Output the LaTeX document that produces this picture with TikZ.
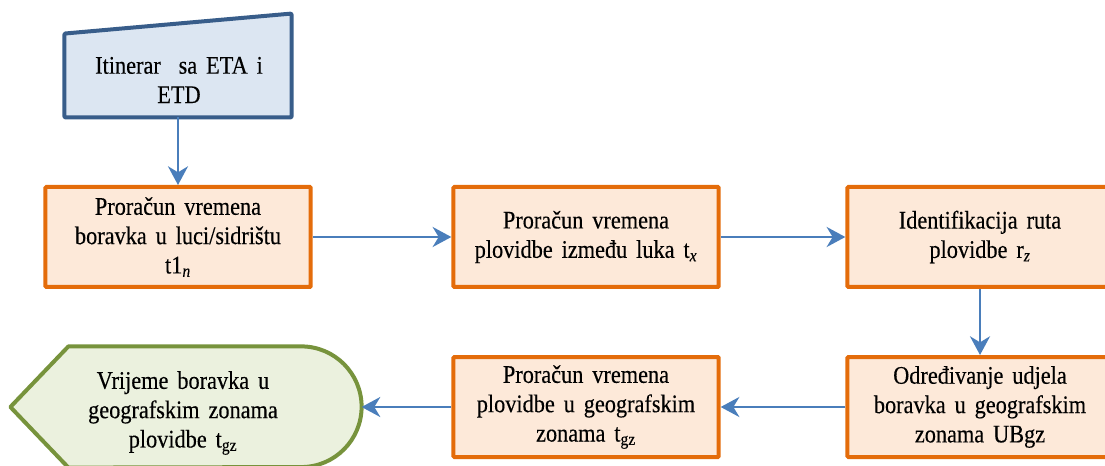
\documentclass[tikz,border=0pt]{standalone}
\usepackage{fontspec}
\setmainfont[WordSpace=1.6, FakeStretch=0.88, FakeBold=0.3]{Liberation Serif}
\usetikzlibrary{arrows.meta}

\definecolor{boxedge}{RGB}{228,108,10}
\definecolor{boxfill}{RGB}{253,233,217}
\definecolor{inedge}{RGB}{56,93,138}
\definecolor{infill}{RGB}{220,230,242}
\definecolor{outedge}{RGB}{119,147,60}
\definecolor{outfill}{RGB}{235,241,222}
\definecolor{flow}{RGB}{74,126,187}

\newcommand{\idx}[1]{\textsubscript{#1}}

\begin{document}
\begin{tikzpicture}[x=0.75pt,y=-0.75pt,
  txt/.style={font=\fontsize{19pt}{22pt}\selectfont, align=center, text=black},
  procbox/.style={txt, rectangle, draw=boxedge, fill=boxfill, line width=3pt,
    minimum width=199pt, minimum height=75pt, inner sep=0pt, rounded corners=0.75pt},
  holder/.style={rectangle, draw=none, inner sep=0pt},
  flowarrow/.style={draw=flow, line width=2pt, -{Stealth[length=14pt,width=15pt,inset=4.5pt]}}]

\useasboundingbox (0,0) rectangle (1105,466);
\clip (0,0) rectangle (1105,466);

% manual input shape (slanted top)
\node[holder, minimum width=170pt, minimum height=77.5pt] (itin) at (178,65.5) {};
\draw[draw=inedge, fill=infill, line width=3pt, rounded corners=0.75pt, line join=round]
  (itin.south west) -- ([yshift=-15pt]itin.north west) -- (itin.north east) -- (itin.south east) -- cycle;
\node[txt] (itintext) at (179,80) {Itinerar\ \ sa ETA i\\ETD};

% process boxes
\node[procbox] (b1) at (178,237) {Proračun vremena\\boravka u luci/sidrištu\\t1\idx{\itshape n}};
\node[procbox] (b2) at (586,237) {Proračun vremena\\plovidbe između luka t\idx{\itshape x}};
\node[procbox] (b3) at (980,237) {Identifikacija ruta\\plovidbe r\idx{\itshape z}};
\node[procbox] (b4) at (980,407) {Određivanje udjela\\boravka u geografskim\\zonama UBgz};
\node[procbox] (b5) at (586,407) {Proračun vremena\\plovidbe u geografskim\\zonama t\idx{gz}};

% display shape (pointed left, rounded right)
\node[holder, minimum width=263pt, minimum height=90.5pt] (outshape) at (186,407) {};
\draw[draw=outedge, fill=outfill, line width=3pt, line join=round]
  (outshape.west) -- ([xshift=43.5pt]outshape.north west) -- ([xshift=-45.25pt]outshape.north east)
  arc[start angle=90, end angle=-90, radius=45.25pt]
  -- ([xshift=43.5pt]outshape.south west) -- cycle;
\node[txt] (outtext) at (183,413) {Vrijeme boravka u\\geografskim zonama\\plovidbe t\idx{gz}};

% flow connectors
\draw[flowarrow] (itin.south) -- (b1.north);
\draw[flowarrow] (b1.east) -- (b2.west);
\draw[flowarrow] (b2.east) -- (b3.west);
\draw[flowarrow] (b3.south) -- (b4.north);
\draw[flowarrow] (b4.west) -- (b5.east);
\draw[flowarrow] (b5.west) -- (outshape.east);
\end{tikzpicture}
\end{document}
